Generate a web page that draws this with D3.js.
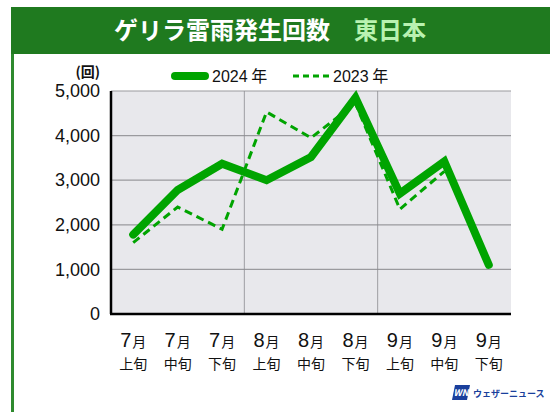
<!DOCTYPE html>
<html>
<head>
<meta charset="utf-8">
<script src="https://cdn.jsdelivr.net/npm/d3@7"></script>
<style>
  html, body { margin: 0; padding: 0; background: #fff; }
  svg { display: block; font-family: "Noto Sans CJK JP", "Noto Sans", sans-serif; }
</style>
</head>
<body>
<div id="chart"></div>
<script>
const months = ['7月', '7月', '7月', '8月', '8月', '8月', '9月', '9月', '9月'];
const periods = ['上旬', '中旬', '下旬', '上旬', '中旬', '下旬', '上旬', '中旬', '下旬'];
const values2024 = [1780, 2780, 3370, 3000, 3520, 4850, 2700, 3420, 1100];
const values2023 = [1600, 2400, 1900, 4530, 3950, 4720, 2350, 3200, null];
const yTicks = [0, 1000, 2000, 3000, 4000, 5000];

const width = 550, height = 412;
const margin = { top: 91, right: 39, bottom: 98, left: 111 };
const w = width - margin.left - margin.right;
const h = height - margin.top - margin.bottom;
const green = '#00a400';
const latin = '"Liberation Sans", Arial, sans-serif';

const svg = d3.select('#chart').append('svg').attr('width', width).attr('height', height);

// frame + header
svg.append('rect').attr('x', 11).attr('y', 7).attr('width', width - 11).attr('height', 47).attr('fill', '#1f7a1f');
svg.append('rect').attr('x', 11).attr('y', 54).attr('width', 3).attr('height', height - 54).attr('fill', '#2e8a2e');
const title = svg.append('text').attr('x', 270).attr('y', 39).attr('text-anchor', 'middle')
  .attr('font-size', 24).attr('font-weight', 'bold');
title.append('tspan').attr('fill', '#fff').text('ゲリラ雷雨発生回数');
title.append('tspan').attr('fill', '#b9f2b0').attr('dx', 24).text('東日本');

const g = svg.append('g').attr('transform', `translate(${margin.left},${margin.top})`);

const x = d3.scaleBand().domain(d3.range(months.length)).range([0, w]);
const y = d3.scaleLinear().domain([0, 5000]).range([h, 0]);
const cx = i => x(i) + x.bandwidth() / 2;

g.append('rect').attr('width', w).attr('height', h).attr('fill', '#e8e8ec');

g.selectAll('.hgrid').data(yTicks.slice(1)).join('line')
  .attr('x1', 0).attr('x2', w).attr('y1', d => y(d)).attr('y2', d => y(d))
  .attr('stroke', '#9a9a9e').attr('stroke-width', 1.2);
g.selectAll('.vgrid').data([3, 6]).join('line')
  .attr('x1', d => x(d)).attr('x2', d => x(d)).attr('y1', 0).attr('y2', h)
  .attr('stroke', '#8a8a8e').attr('stroke-width', 0.8);

// y axis
const yAxis = g.append('g').call(d3.axisLeft(y).tickValues(yTicks).tickFormat(d3.format(',')).tickSize(0).tickPadding(11));
yAxis.select('.domain').remove();
yAxis.selectAll('text').attr('font-size', 18).attr('fill', '#111').attr('font-family', latin);
g.append('text').attr('x', -11).attr('y', -14).attr('text-anchor', 'end').attr('font-size', 14)
  .attr('font-weight', 'bold').attr('fill', '#111').text('(回)');

g.append('line').attr('x1', 0).attr('x2', 0).attr('y1', 0).attr('y2', h).attr('stroke', '#000').attr('stroke-width', 2.5);
g.append('line').attr('x1', -1).attr('x2', w).attr('y1', h).attr('y2', h).attr('stroke', '#000').attr('stroke-width', 2.5);

// x labels
const xl = g.selectAll('.xl').data(months).join('g').attr('transform', (d, i) => `translate(${cx(i)},${h})`);
const ml = xl.append('text').attr('y', 33).attr('text-anchor', 'middle').attr('fill', '#111');
ml.append('tspan').attr('font-size', 20).attr('font-family', latin).text(d => d.replace('月', ''));
ml.append('tspan').attr('font-size', 14).attr('dx', 1).text('月');
xl.append('text').attr('y', 55).attr('text-anchor', 'middle').attr('font-size', 14).attr('fill', '#111')
  .text((d, i) => periods[i]);

// lines
const line = d3.line().defined(d => d != null).x((d, i) => cx(i)).y(d => y(d));
g.append('path').datum(values2023).attr('fill', 'none').attr('stroke', green)
  .attr('stroke-width', 3).attr('stroke-dasharray', '8,5').attr('d', line);
g.append('path').datum(values2024).attr('fill', 'none').attr('stroke', green)
  .attr('stroke-width', 8).attr('stroke-linejoin', 'miter').attr('stroke-linecap', 'round').attr('d', line);

// legend
const lg = svg.append('g').attr('transform', 'translate(0,76)');
lg.append('line').attr('x1', 175).attr('x2', 205).attr('stroke', green).attr('stroke-width', 8).attr('stroke-linecap', 'round');
lg.append('text').attr('x', 212).attr('y', 6).attr('font-size', 16).attr('fill', '#111')
  .html('<tspan font-family=\'"Liberation Sans", Arial, sans-serif\'>2024</tspan> 年');
lg.append('line').attr('x1', 293).attr('x2', 329).attr('stroke', green).attr('stroke-width', 3).attr('stroke-dasharray', '6,4');
lg.append('text').attr('x', 333).attr('y', 6).attr('font-size', 16).attr('fill', '#111')
  .html('<tspan font-family=\'"Liberation Sans", Arial, sans-serif\'>2023</tspan> 年');

// logo
const logo = svg.append('g').attr('transform', 'translate(452,385)');
logo.append('path').attr('d', 'M3,0 H18 L15,15 H0 Z').attr('fill', '#1a3f9c');
logo.append('text').attr('x', 9).attr('y', 11).attr('text-anchor', 'middle').attr('font-size', 9)
  .attr('font-style', 'italic').attr('font-weight', 'bold').attr('fill', '#fff').text('WN');
logo.append('text').attr('x', 21).attr('y', 12).attr('font-size', 9).attr('font-weight', 'bold')
  .attr('fill', '#1a3f9c').text('ウェザーニュース');
</script>
</body>
</html>
